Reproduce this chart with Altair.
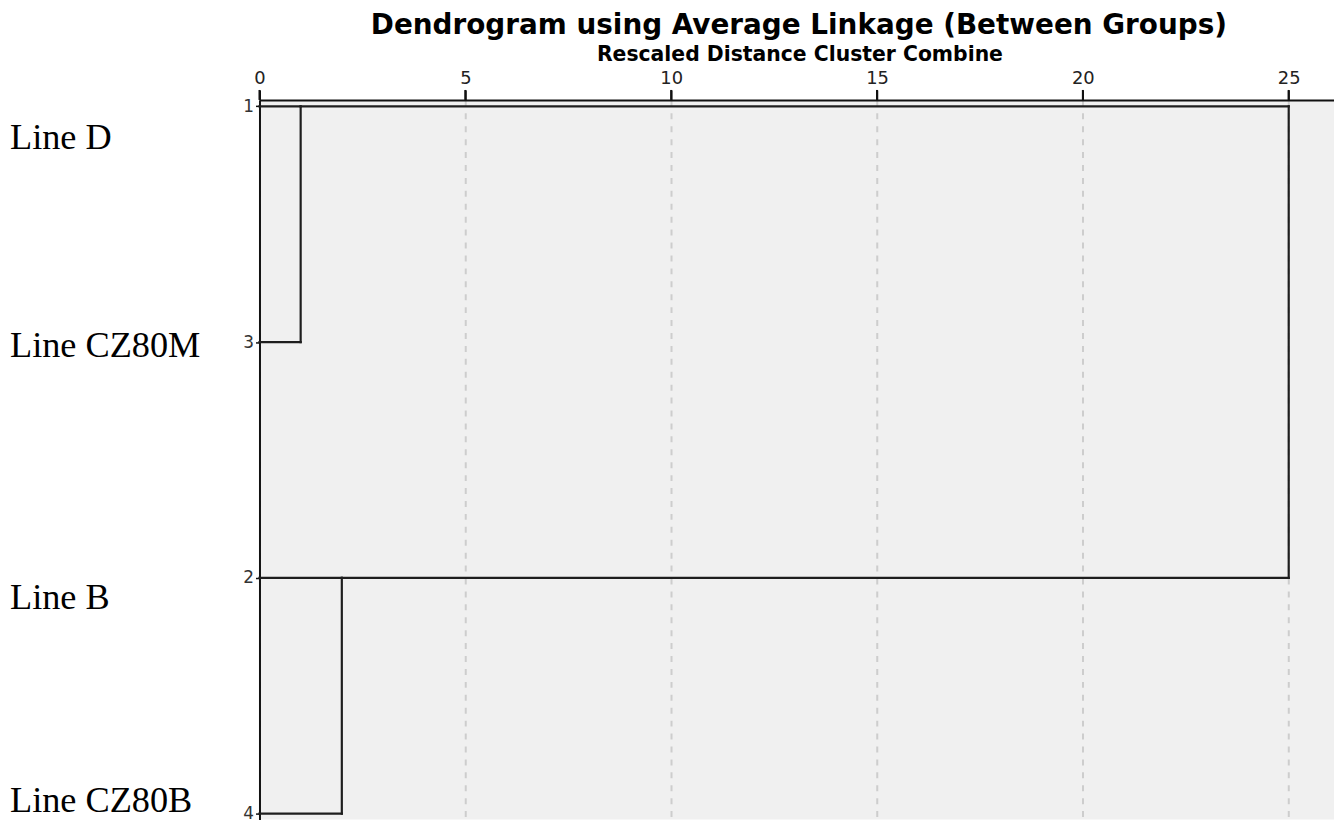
import altair as alt
import pandas as pd

# ---- data ----
leaf_names = ["Line D", "Line CZ80M", "Line B", "Line CZ80B"]
case_numbers = [1, 3, 2, 4]              # SPSS case ids shown at each row
leaf_rows = [1, 2, 3, 4]                 # dendrogram row order
label_rows = [1.18, 2.065, 3.13, 3.995]  # where the name labels sit (row units)
merge_a = [1, 3, 1]                      # first row of each merging cluster
merge_b = [2, 4, 3]
merge_height = [1.0, 2.0, 25.0]          # rescaled distance of each merge
x_ticks = [0, 5, 10, 15, 20, 25]

# ---- build dendrogram segments (SPSS style) ----
current = {r: 0.0 for r in leaf_rows}
segs = []
for a, b, h in zip(merge_a, merge_b, merge_height):
    segs.append(dict(x=current[a], x2=h, y=a, y2=a))
    segs.append(dict(x=current[b], x2=h, y=b, y2=b))
    segs.append(dict(x=h, x2=h, y=a, y2=b))
    current[a] = h
    current[b] = h
seg_df = pd.DataFrame(segs)
label_df = pd.DataFrame({"name": leaf_names, "pos": label_rows})
tick_df = pd.DataFrame({"t": x_ticks})

label_map = "[" + ",".join(["''"] + [f"'{c}'" for c in case_numbers]) + "]"

x_scale = alt.Scale(domain=[0, 26.1], nice=False, zero=False)
y_scale = alt.Scale(domain=[0.9726, 4.025], reverse=True, nice=False, zero=False)

x_axis = alt.Axis(
    orient="top", values=x_ticks, format="d",
    title="Rescaled Distance Cluster Combine",
    titleFont="DejaVu Sans", titleFontWeight="bold", titleFontSize=20.5,
    titleColor="#000", titleAnchor="start", titleAlign="left",
    titleX=339, titleY=-40, titleBaseline="alphabetic",
    labelFont="DejaVu Sans", labelFontSize=18, labelColor="#222",
    labelPadding=2, labelFlush=False,
    ticks=True, tickSize=10, tickWidth=2, tickColor="#111", tickOpacity=1,
    domainColor="#111", domainWidth=2,
    grid=True, gridColor="#cdcdcd", gridDash=[6, 7], gridWidth=2,
)
y_axis = alt.Axis(
    values=leaf_rows, labelExpr=f"{label_map}[datum.value]", title=None,
    grid=False, ticks=True, tickSize=4, tickWidth=1.5, tickColor="#111",
    domainColor="#111", domainWidth=2,
    labelFont="DejaVu Sans", labelFontSize=17, labelColor="#333",
    labelPadding=2,
)

lines = alt.Chart(seg_df).mark_rule(color="#1e1e1e", strokeWidth=2.2, strokeCap="square").encode(
    x=alt.X("x:Q", scale=x_scale, axis=x_axis),
    x2="x2:Q",
    y=alt.Y("y:Q", scale=y_scale, axis=y_axis),
    y2="y2:Q",
)

# visible tick marks above the top axis line
ticks = alt.Chart(tick_df).mark_rule(color="#111", strokeWidth=2).encode(
    x=alt.X("t:Q", scale=x_scale, axis=x_axis),
    y=alt.value(0),
    y2=alt.value(-10),
)

labels = alt.Chart(label_df).mark_text(
    align="left", baseline="alphabetic", font="Liberation Serif",
    fontSize=36.5, color="#000"
).encode(
    x=alt.value(-251),
    y=alt.Y("pos:Q", scale=y_scale, axis=y_axis),
    text="name:N",
)

chart = alt.layer(lines, ticks, labels).properties(
    width=1081,
    height=724,
    autosize=alt.AutoSizeParams(type="none"),
    padding={"left": 253, "top": 90, "right": 0, "bottom": 0},
    title=alt.TitleParams(
        text="Dendrogram using Average Linkage (Between Groups)",
        anchor="start", frame="group", dx=112,
        font="DejaVu Sans", fontWeight="bold", fontSize=28, color="#000",
    ),
).configure_view(fill="#f0f0f0", strokeWidth=0)

chart.save("out.html", embed_options={"renderer": "svg", "actions": False})
